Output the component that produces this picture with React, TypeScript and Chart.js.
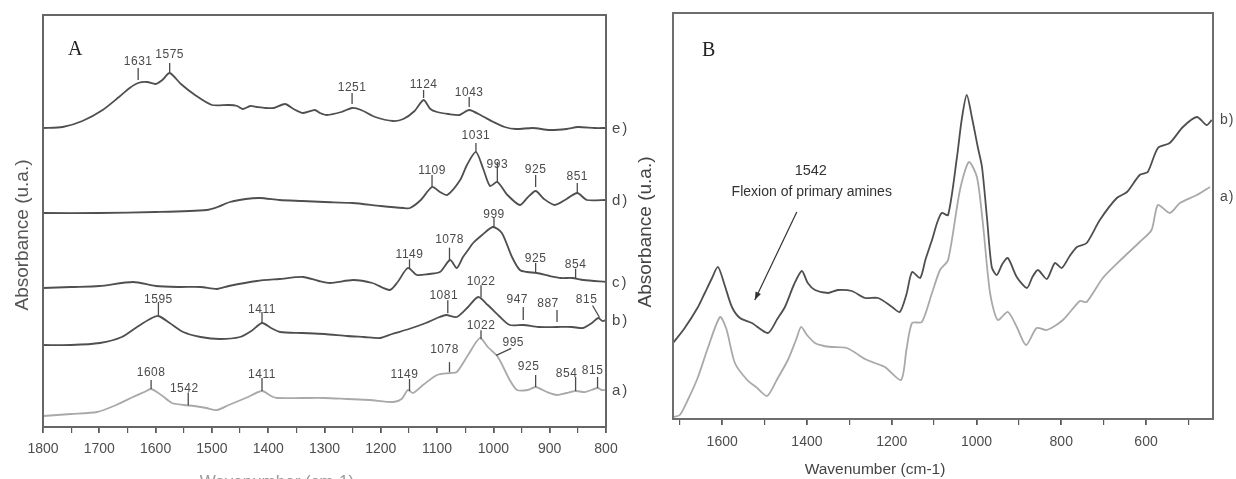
import React, { useEffect, useRef } from "react";
import { Chart, registerables } from "chart.js";

Chart.register(...registerables);

// ---------------- Panel A data (wavenumber cm-1, absorbance u.a. with offsets) ----------------
const wnE = [1800,1765,1730,1694,1665,1646,1631,1615,1600,1588,1575,1555,1530,1500,1470,1455,1445,1432,1420,1405,1390,1370,1355,1338,1317,1308,1296,1270,1251,1235,1210,1178,1160,1140,1124,1112,1100,1080,1060,1043,1020,1000,980,960,930,900,870,850,820,800];
const absE = [299,300,306,317,330,339,344,345,343,347,354,343,332,322,322,321,318,321,320,319,319,323,318,314,317,314,312,315,319,317,310,306,308,316,327,318,315,313,312,317,311,305,300,298,299,297,298,300,299,299];

const wnD = [1800,1700,1600,1509,1490,1468,1440,1415,1380,1340,1300,1250,1200,1160,1148,1129,1109,1095,1082,1059,1047,1031,1018,1006,993,975,953,940,925,910,891,870,851,834,800];
const absD = [214,214,215,217,220,225,228,229,227,226,225,224,221,219,219,227,240,235,232,247,262,275,258,241,245,232,222,229,236,228,222,228,234,227,227];

const wnC = [1800,1750,1700,1640,1600,1560,1520,1491,1470,1420,1380,1338,1310,1290,1249,1215,1184,1170,1152,1136,1115,1095,1077,1065,1054,1045,1036,1020,1001,985,967,953,940,923,900,880,860,840,800];
const absC = [139,140,141,145,141,140,140,138,141,146,148,150,146,144,147,144,137,145,159,152,153,155,167,159,170,177,184,192,200,194,170,157,155,154,151,149,149,147,145];

const wnB = [1800,1750,1699,1660,1633,1610,1595,1575,1551,1520,1486,1450,1430,1411,1395,1379,1340,1300,1260,1230,1201,1180,1150,1120,1100,1084,1065,1045,1027,1010,990,971,947,920,887,860,841,825,814,806,800];
const absB = [82,82,84,90,100,108,111,104,95,90,88,90,96,104,99,95,94,93,91,90,89,93,98,104,109,112,110,120,130,122,111,102,102,100,100,100,99,104,109,106,107];

const wnA = [1800,1750,1704,1670,1640,1620,1608,1590,1571,1550,1532,1510,1491,1470,1440,1411,1395,1384,1340,1300,1260,1220,1178,1163,1152,1143,1125,1100,1077,1065,1045,1024,1010,992,971,958,939,925,905,887,870,854,837,815,808,800];
const absA = [11,13,15,22,30,35,38,32,24,22,21,19,17,22,29,36,31,29,29,29,28,27,25,28,37,34,42,52,54,55,72,89,80,70,47,37,37,40,35,32,34,36,35,39,37,37];

const xTicksA = { min: 800, max: 1800, minor: 50, major: 100 };
const yRangeA = { min: 0, max: 412 };

// peak labels (wavenumber, text)
const peaksE = ["1631", "1575", "1251", "1124", "1043"];
const peaksD = ["1109", "1031", "993", "925", "851"];
const peaksC = ["1149", "1078", "999", "925", "854"];
const peaksB = ["1595", "1411", "1081", "1022", "947", "887", "815"];
const peaksA = ["1608", "1542", "1411", "1149", "1078", "1022", "995", "925", "854", "815"];

// ---------------- Panel B data ----------------
const wnBb = [1716,1690,1657,1641,1625,1610,1595,1577,1558,1530,1492,1470,1452,1430,1412,1398,1381,1350,1327,1294,1263,1232,1199,1181,1165,1152,1133,1120,1105,1093,1082,1067,1046,1035,1023,1010,997,987,975,964,952,939,926,905,881,868,855,834,815,799,780,763,740,709,669,645,615,596,572,544,513,480,457,445];
const absBb = [76,90,112,126,140,152,135,112,101,96,86,100,112,135,148,136,129,126,129,128,121,121,112,107,125,147,141,160,179,196,206,204,262,299,324,300,272,252,200,152,144,155,161,142,131,142,149,140,156,151,163,172,176,199,221,227,244,247,271,276,292,302,294,299];

const wnBa = [1716,1700,1680,1657,1633,1605,1590,1570,1541,1520,1494,1470,1445,1425,1414,1400,1381,1360,1341,1306,1285,1263,1240,1216,1178,1165,1152,1129,1105,1086,1067,1039,1018,999,985,968,950,926,905,883,858,834,796,756,740,702,655,615,587,572,544,520,480,449];
const absBa = [2,4,20,42,72,102,90,56,39,32,23,40,59,80,92,84,76,73,72,71,66,60,56,52,39,70,96,97,126,149,159,229,257,242,196,126,99,107,92,74,91,89,99,118,117,141,161,177,189,214,206,216,224,232];

const xTicksB = { min: 442, max: 1716, minor: 100, major: 200 };
const yRangeB = { min: 0, max: 406 };

// ---------------- label styling (positions relative to the curve, px) ----------------
type PeakStyle = { gap?: number; len?: number; tg?: number; dx?: number; leader?: number[]; text?: number[] };
const PEAK_STYLE: Record<string, PeakStyle> = {
  "e1631": { gap: 3, len: 12, tg: 3 },
  "e1575": { gap: 1, len: 9, tg: 5 },
  "e1251": { gap: 4, len: 11, tg: 2 },
  "e1124": { gap: 2, len: 8, tg: 2 },
  "e1043": { gap: 3, len: 10, tg: 1 },
  "d1109": { len: 12, tg: 1 },
  "d1031": { len: 9, tg: 4 },
  "d993": { len: 20, tg: -6 },
  "d925": { gap: 4, len: 12, tg: 2 },
  "d851": { len: 10, tg: 3 },
  "c1149": { len: 10, tg: 1 },
  "c1078": { len: 13, tg: 5 },
  "c999": { len: 10, tg: 0 },
  "c925": { len: 10, tg: 1 },
  "c854": { len: 10, tg: 1 },
  "b1595": { gap: 1, len: 13, tg: -1 },
  "b1411": { len: 11, tg: -1 },
  "b1081": { gap: 2, len: 13, tg: 1, dx: -4 },
  "b1022": { gap: 2, len: 12, tg: 0 },
  "b947": { gap: 5, len: 13, tg: 4, dx: -6 },
  "b887": { gap: 5, len: 12, tg: 3, dx: -9 },
  "b815": { leader: [2, -1, -5, -13], text: [-11, -15] },
  "a1608": { len: 9, tg: 4 },
  "a1542": { len: 13, tg: 0, dx: -4 },
  "a1411": { len: 13, tg: 0 },
  "a1149": { len: 12, tg: 1, dx: -5 },
  "a1078": { gap: 1, len: 10, tg: 9, dx: -5 },
  "a1022": { len: 9, tg: 1 },
  "a995": { leader: [0, 0, 15, -7], text: [17, -9] },
  "a925": { len: 12, tg: 5, dx: -7 },
  "a854": { len: 14, tg: 0, dx: -9 },
  "a815": { len: 11, tg: 3, dx: -5 },
};

const DARK = "#4f4f4f";
const LIGHT = "#a9a9a9";
const TEXT = "#4a4a4a";
const SANS = '"Liberation Sans", Arial, sans-serif';
const SERIF = '"Liberation Serif", "Times New Roman", serif';

type Series = { key: string; tag: string; wn: number[]; abs: number[]; color: string; peaks: string[] };

const seriesA: Series[] = [
  { key: "e", tag: "e)", wn: wnE, abs: absE, color: DARK, peaks: peaksE },
  { key: "d", tag: "d)", wn: wnD, abs: absD, color: DARK, peaks: peaksD },
  { key: "c", tag: "c)", wn: wnC, abs: absC, color: DARK, peaks: peaksC },
  { key: "b", tag: "b)", wn: wnB, abs: absB, color: DARK, peaks: peaksB },
  { key: "a", tag: "a)", wn: wnA, abs: absA, color: LIGHT, peaks: peaksA },
];

const seriesB: Series[] = [
  { key: "b", tag: "b)", wn: wnBb, abs: absBb, color: DARK, peaks: [] },
  { key: "a", tag: "a)", wn: wnBa, abs: absBa, color: LIGHT, peaks: [] },
];

function interp(wns: number[], vals: number[], w: number) {
  for (let i = 0; i < wns.length - 1; i++) {
    const a = wns[i], b = wns[i + 1];
    if ((w <= a && w >= b) || (w >= a && w <= b)) {
      const t = (w - a) / (b - a || 1);
      return vals[i] + t * (vals[i + 1] - vals[i]);
    }
  }
  return vals[vals.length - 1];
}

function makeDatasets(series: Series[]) {
  return series.map((s) => ({
    label: s.tag,
    data: s.wn.map((w, i) => ({ x: w, y: s.abs[i] })),
    borderColor: s.color,
    borderWidth: 1.8,
    pointRadius: 0,
    tension: 0.25,
    fill: false,
  }));
}

function xScale(t: { min: number; max: number; minor: number; major: number }, height: number, pad: number) {
  return {
    type: "linear" as const,
    reverse: true,
    min: t.min,
    max: t.max,
    afterFit: (s: any) => {
      s.height = height;
    },
    border: { display: false },
    grid: {
      drawOnChartArea: false,
      drawTicks: true,
      tickLength: 6,
      color: "#5a5a5a",
      lineWidth: (c: any) => (c.tick && c.tick.value % t.major === 0 ? 1.8 : 1.2),
    },
    ticks: {
      stepSize: t.minor,
      includeBounds: false,
      autoSkip: false,
      maxRotation: 0,
      padding: pad,
      color: "#4d4d4d",
      font: { family: SANS, size: 14 },
      callback: (v: any) => (Number(v) % t.major === 0 ? String(v) : ""),
    },
  };
}

function rotatedText(ctx: CanvasRenderingContext2D, text: string, x: number, y: number) {
  ctx.save();
  ctx.translate(x, y);
  ctx.rotate(-Math.PI / 2);
  ctx.textAlign = "center";
  ctx.textBaseline = "middle";
  ctx.fillText(text, 0, 0);
  ctx.restore();
}

const decorA = {
  id: "decorA",
  afterDraw(chart: any) {
    const { ctx, chartArea: ca, scales } = chart;
    const xs = scales.x, ys = scales.y;
    ctx.save();
    ctx.strokeStyle = "#666";
    ctx.lineWidth = 2;
    ctx.strokeRect(ca.left, ca.top, ca.right - ca.left, ca.bottom - ca.top);

    // peak labels
    ctx.font = `12px ${SANS}`;
    ctx.fillStyle = TEXT;
    ctx.strokeStyle = TEXT;
    ctx.lineWidth = 1.3;
    ctx.textAlign = "center";
    ctx.textBaseline = "alphabetic";
    (ctx as any).letterSpacing = "0.5px";
    seriesA.forEach((s) => {
      s.peaks.forEach((p) => {
        const wn = Number(p);
        const st = PEAK_STYLE[s.key + p] || {};
        const x = xs.getPixelForValue(wn);
        const y = ys.getPixelForValue(interp(s.wn, s.abs, wn));
        if (st.leader && st.text) {
          const [x0, y0, x1, y1] = st.leader;
          ctx.beginPath();
          ctx.moveTo(x + x0, y + y0);
          ctx.lineTo(x + x1, y + y1);
          ctx.stroke();
          ctx.fillText(p, x + st.text[0], y + st.text[1]);
        } else {
          const yb = y - (st.gap ?? 0);
          const yt = yb - (st.len ?? 10);
          ctx.beginPath();
          ctx.moveTo(x, yb);
          ctx.lineTo(x, yt);
          ctx.stroke();
          ctx.fillText(p, x + (st.dx ?? 0), yt - (st.tg ?? 2));
        }
      });
    });

    // series tags at right
    ctx.font = `15px ${SANS}`;
    (ctx as any).letterSpacing = "2px";
    ctx.textAlign = "left";
    ctx.textBaseline = "middle";
    seriesA.forEach((s) => {
      const last = s.abs[s.abs.length - 1];
      ctx.fillText(s.tag, ca.right + 6, ys.getPixelForValue(last) + 1);
    });
    (ctx as any).letterSpacing = "0px";

    // panel letter
    ctx.fillStyle = "#222";
    ctx.font = `20px ${SERIF}`;
    ctx.textAlign = "left";
    ctx.textBaseline = "alphabetic";
    ctx.fillText("A", ca.left + 25, ca.top + 40);

    // axis titles
    ctx.fillStyle = "#555";
    ctx.font = `19px ${SANS}`;
    rotatedText(ctx, "Absorbance (u.a.)", 23, 235);
    ctx.fillStyle = "#9a9a9a";
    ctx.font = `17px ${SANS}`;
    ctx.textAlign = "center";
    ctx.fillText("Wavenumber (cm-1)", 277, 487);
    ctx.restore();
  },
};

// annotation of panel B (data coordinates)
const noteB = { wn: 1391, label: "1542", text: "Flexion of primary amines", labelY: 244, textY: 223 };
const arrowB = { fromWn: 1424, fromY: 207, toWn: 1523, toY: 119 };

const decorB = {
  id: "decorB",
  afterDraw(chart: any) {
    const { ctx, chartArea: ca, scales } = chart;
    const xs = scales.x, ys = scales.y;
    ctx.save();
    ctx.strokeStyle = "#6e6e6e";
    ctx.lineWidth = 2;
    ctx.strokeRect(ca.left, ca.top, ca.right - ca.left, ca.bottom - ca.top);

    // note
    ctx.fillStyle = "#333";
    ctx.font = `14.5px ${SANS}`;
    ctx.textAlign = "center";
    ctx.textBaseline = "alphabetic";
    const nx = xs.getPixelForValue(noteB.wn);
    ctx.fillText(noteB.label, nx, ys.getPixelForValue(noteB.labelY));
    ctx.font = `14px ${SANS}`;
    ctx.fillText(noteB.text, nx + 1, ys.getPixelForValue(noteB.textY));

    // arrow
    const x0 = xs.getPixelForValue(arrowB.fromWn), y0 = ys.getPixelForValue(arrowB.fromY);
    const x1 = xs.getPixelForValue(arrowB.toWn), y1 = ys.getPixelForValue(arrowB.toY);
    ctx.strokeStyle = "#333";
    ctx.lineWidth = 1.2;
    ctx.beginPath();
    ctx.moveTo(x0, y0);
    ctx.lineTo(x1, y1);
    ctx.stroke();
    const ang = Math.atan2(y1 - y0, x1 - x0);
    const L = 8, W = 3;
    ctx.beginPath();
    ctx.moveTo(x1, y1);
    ctx.lineTo(x1 - L * Math.cos(ang) + W * Math.sin(ang), y1 - L * Math.sin(ang) - W * Math.cos(ang));
    ctx.lineTo(x1 - L * Math.cos(ang) - W * Math.sin(ang), y1 - L * Math.sin(ang) + W * Math.cos(ang));
    ctx.closePath();
    ctx.fillStyle = "#333";
    ctx.fill();

    // series tags
    ctx.fillStyle = TEXT;
    ctx.font = `14px ${SANS}`;
    (ctx as any).letterSpacing = "1px";
    ctx.textAlign = "left";
    ctx.textBaseline = "middle";
    const tagDy: Record<string, number> = { b: 0, a: 10 };
    seriesB.forEach((s) => {
      const last = s.abs[s.abs.length - 1];
      ctx.fillText(s.tag, ca.right + 7, ys.getPixelForValue(last) + (tagDy[s.key] ?? 0));
    });
    (ctx as any).letterSpacing = "0px";

    // panel letter
    ctx.fillStyle = "#222";
    ctx.font = `20px ${SERIF}`;
    ctx.fillText("B", ca.left + 29, ca.top + 38);

    // axis titles
    ctx.fillStyle = "#444";
    ctx.font = `19px ${SANS}`;
    rotatedText(ctx, "Absorbance (u.a.)", 26, 232);
    ctx.font = `15.5px ${SANS}`;
    ctx.textAlign = "center";
    ctx.textBaseline = "alphabetic";
    ctx.fillText("Wavenumber (cm-1)", 255, 474);
    ctx.restore();
  },
};

export default function App() {
  const refA = useRef<HTMLCanvasElement>(null);
  const refB = useRef<HTMLCanvasElement>(null);

  useEffect(() => {
    const chartA = new Chart(refA.current as HTMLCanvasElement, {
      type: "line",
      data: { datasets: makeDatasets(seriesA) as any },
      options: {
        animation: false,
        responsive: false,
        layout: { padding: { left: 43, top: 15, right: 34, bottom: 0 } },
        plugins: { legend: { display: false }, tooltip: { enabled: false } },
        scales: {
          x: xScale(xTicksA, 52, 8) as any,
          y: { display: false, min: yRangeA.min, max: yRangeA.max },
        },
      },
      plugins: [decorA],
    });
    const chartB = new Chart(refB.current as HTMLCanvasElement, {
      type: "line",
      data: { datasets: makeDatasets(seriesB) as any },
      options: {
        animation: false,
        responsive: false,
        layout: { padding: { left: 53, top: 13, right: 23, bottom: 0 } },
        plugins: { legend: { display: false }, tooltip: { enabled: false } },
        scales: {
          x: xScale(xTicksB, 60, 9) as any,
          y: { display: false, min: yRangeB.min, max: yRangeB.max },
        },
      },
      plugins: [decorB],
    });
    return () => {
      chartA.destroy();
      chartB.destroy();
    };
  }, []);

  return (
    <div style={{ position: "absolute", left: 0, top: 0, width: 1236, height: 479, background: "#fff", overflow: "hidden" }}>
      <canvas ref={refA} width={640} height={479} style={{ position: "absolute", left: 0, top: 0, width: 640, height: 479 }} />
      <canvas ref={refB} width={616} height={479} style={{ position: "absolute", left: 620, top: 0, width: 616, height: 479 }} />
    </div>
  );
}
